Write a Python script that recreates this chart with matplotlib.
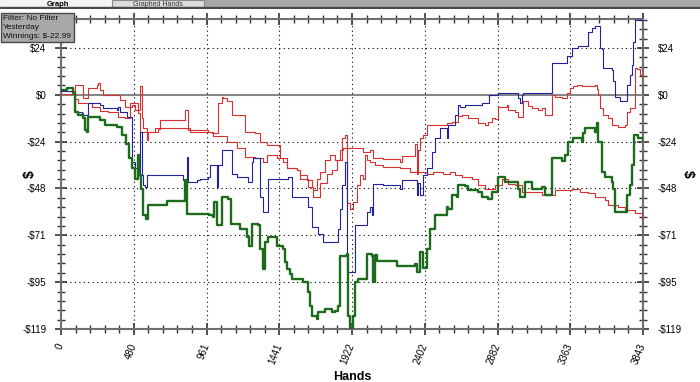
import matplotlib
matplotlib.use("Agg")
import matplotlib.pyplot as plt
from matplotlib.patches import Rectangle, FancyBboxPatch
from matplotlib.ticker import FixedLocator, MultipleLocator, FuncFormatter

plt.rcParams['font.family'] = ['Liberation Sans', 'DejaVu Sans']

TOTAL_HANDS = 3843
Y_MIN, Y_MAX = -119, 38.5

# winnings (thick green)
green_hands = [0, 40, 81, 92, 110, 147, 158, 169, 180, 246, 257, 290, 367, 400, 429, 449,
               466, 488, 506, 515, 528, 543, 559, 576, 660, 697, 796, 818, 829, 906, 979,
               1005, 1010, 1030, 1060, 1100, 1122, 1181, 1230, 1241, 1258, 1303, 1314,
               1336, 1347, 1369, 1413, 1424, 1468, 1479, 1490, 1512, 1523, 1589, 1600,
               1633, 1644, 1655, 1688, 1699, 1743, 1787, 1809, 1831, 1842, 1886, 1897,
               1908, 1919, 1930, 1941, 1963, 2007, 2018, 2051, 2062, 2073, 2084, 2216,
               2337, 2348, 2370, 2392, 2414, 2436, 2469, 2524, 2546, 2557, 2580, 2613,
               2624, 2668, 2690, 2756, 2778, 2822, 2844, 2888, 2910, 2932, 2998, 3020,
               3031, 3053, 3064, 3086, 3108, 3152, 3174, 3196, 3229, 3240, 3306, 3328,
               3350, 3383, 3438, 3449, 3460, 3504, 3526, 3537, 3548, 3570, 3592, 3625,
               3636, 3647, 3658, 3713, 3735, 3757, 3768, 3786, 3812, 3843]
green_vals = [2.5, 3.4, 1.0, -8.5, -10.2, -11.9, -17.9, -18.7, -11.1, -11.1, -12.8, -15.3,
              -16.2, -20.4, -25.0, -32.3, -37.4, -42.6, -30.6, -40.8, -47.7, -61.3, -63.0,
              -56.2, -56.2, -54.0, -54.0, -43.4, -60.4, -60.4, -61.3, -62.0, -54.5, -66.4,
              -51.9, -53.0, -65.5, -68.1, -72.5, -76.6, -65.5, -66.4, -78.3, -88.5, -74.9,
              -72.3, -72.5, -76.6, -78.3, -85.1, -88.5, -91.0, -93.6, -93.6, -95.3, -100.4,
              -107.2, -112.3, -114.0, -110.6, -109.0, -110.6, -110.0, -107.2, -82.0, -81.0,
              -112.3, -118.3, -118.5, -112.3, -95.3, -93.6, -93.6, -80.8, -82.0, -95.3,
              -81.5, -84.5, -87.0, -86.0, -90.0, -80.0, -88.0, -78.3, -68.1, -61.3, -61.0,
              -57.0, -58.0, -51.0, -51.9, -46.0, -46.5, -48.5, -49.4, -52.0, -52.8, -49.4,
              -41.7, -41.7, -44.3, -44.3, -47.7, -51.9, -51.9, -44.3, -44.3, -47.7, -47.7,
              -46.8, -51.1, -51.1, -32.3, -33.5, -30.6, -23.8, -22.1, -23.8, -19.6, -17.0,
              -17.0, -18.7, -14.5, -23.8, -39.1, -41.7, -41.7, -44.3, -47.7, -59.6, -59.6,
              -51.1, -46.0, -35.7, -20.4, -22.1, -23.0]

# blue series
blue_hands = [0, 81, 92, 136, 147, 169, 180, 257, 279, 367, 378, 389, 433, 466, 471, 488,
              510, 521, 532, 543, 554, 565, 796, 807, 829, 840, 895, 917, 972, 983, 1005,
              1027, 1038, 1060, 1115, 1126, 1159, 1225, 1236, 1258, 1270, 1303, 1314, 1336,
              1358, 1369, 1501, 1523, 1622, 1633, 1655, 1699, 1732, 1809, 1831, 1842, 1853,
              1875, 1886, 1930, 1941, 1996, 2018, 2040, 2051, 2062, 2128, 2238, 2249, 2337,
              2348, 2359, 2370, 2392, 2414, 2447, 2469, 2502, 2535, 2547, 2557, 2602, 2624,
              2635, 2668, 2756, 2778, 2822, 2828, 2866, 2888, 2998, 3020, 3031, 3042, 3053,
              3229, 3240, 3328, 3339, 3372, 3416, 3471, 3482, 3504, 3526, 3548, 3559, 3570,
              3581, 3636, 3647, 3658, 3691, 3724, 3735, 3757, 3768, 3779, 3790, 3843]
blue_vals = [2.0, 0.9, -8.5, -9.4, -10.2, -10.2, -4.3, -5.1, -6.8, -7.7, -6.0, -8.5, -11.1,
             -11.1, -34.0, -37.0, -40.8, -18.7, -40.8, -46.0, -46.8, -40.8, -40.8, -43.4,
             -31.5, -44.3, -43.4, -42.6, -42.0, -35.7, -35.7, -46.8, -35.7, -28.1, -28.1,
             -40.0, -42.0, -42.0, -44.3, -34.0, -32.3, -32.3, -51.9, -59.6, -59.6, -42.6,
             -42.0, -51.9, -51.9, -57.0, -67.0, -70.6, -74.9, -74.9, -68.1, -57.9, -46.0,
             -34.0, -90.2, -90.2, -66.4, -66.4, -59.6, -57.0, -61.0, -45.1, -46.0, -47.7,
             -43.4, -43.4, -51.1, -45.0, -51.1, -40.8, -37.4, -28.9, -22.1, -17.0, -17.0,
             -22.1, -15.3, -10.2, -5.1, -6.0, -5.1, -5.1, -4.3, -4.3, 0.0, 0.0, 0.9, 0.9,
             -1.7, -4.3, 0.0, 0.9, 0.9, 16.0, 16.0, 19.6, 24.0, 24.7, 24.7, 32.0, 34.0, 35.0,
             35.0, 24.0, 23.5, 13.6, 12.8, 6.8, -0.9, -3.4, -3.4, 5.1, 10.2, 15.3, 27.0,
             38.0, 38.0]

# upper red series
red_hi_hands = [0, 92, 136, 147, 169, 180, 235, 246, 257, 279, 367, 389, 422, 466, 488, 510,
                521, 532, 543, 565, 576, 642, 653, 796, 818, 840, 972, 994, 1038, 1060,
                1071, 1093, 1115, 1126, 1192, 1214, 1280, 1314, 1358, 1424, 1446, 1490,
                1556, 1578, 1622, 1633, 1666, 1688, 1710, 1754, 1787, 1820, 1842, 1864,
                1963, 1996, 2040, 2062, 2128, 2238, 2249, 2304, 2337, 2348, 2359, 2370,
                2392, 2414, 2447, 2546, 2580, 2624, 2646, 2690, 2734, 2756, 2800, 2822,
                2844, 2866, 2888, 2943, 2954, 2998, 3020, 3042, 3053, 3086, 3108, 3152,
                3174, 3196, 3218, 3240, 3262, 3306, 3339, 3361, 3383, 3405, 3438, 3526,
                3537, 3548, 3559, 3581, 3614, 3636, 3680, 3724, 3735, 3757, 3779, 3790,
                3801, 3820, 3843]
red_hi_vals = [0.5, 5.1, 5.1, -1.7, -1.7, 3.4, 5.1, 6.0, 2.6, 0.0, 0.0, -2.6, -6.0, -5.1,
               -7.7, -7.7, 4.3, -11.9, -17.0, -23.0, -18.7, -17.5, -12.8, -12.8, -7.7, -17.9,
               -18.7, -19.6, -4.3, -0.9, -1.7, -3.4, -3.4, -10.2, -10.2, -18.7, -19.6, -23.8,
               -25.5, -25.5, -32.3, -37.4, -38.3, -43.0, -43.0, -47.0, -51.9, -51.9, -45.0,
               -40.0, -38.3, -33.0, -28.0, -27.2, -27.2, -29.0, -28.0, -32.0, -32.5, -34.0,
               -31.0, -31.0, -25.0, -40.0, -28.0, -22.0, -20.4, -15.3, -15.3, -14.5, -13.6,
               -11.0, -10.2, -12.0, -12.0, -14.5, -15.3, -14.0, -11.9, -12.5, -6.0, -5.1,
               -7.7, -8.5, -11.1, -11.1, -3.4, -5.5, -6.8, -7.7, -6.8, -10.2, -10.2, 0.0,
               -0.9, -1.7, 1.0, 3.4, 4.3, 5.1, 4.3, 5.1, 3.0, 0.0, -6.8, -10.2, -12.0, -15.3,
               -16.2, -15.3, -8.5, -6.8, -6.8, 13.6, 13.0, 10.2, 10.2]

# lower red series
red_lo_hands = [0, 81, 92, 110, 180, 202, 257, 312, 378, 422, 444, 455, 477, 506, 521, 576,
                620, 796, 851, 983, 1005, 1093, 1159, 1214, 1280, 1325, 1336, 1358, 1402,
                1424, 1468, 1490, 1556, 1578, 1622, 1655, 1666, 1688, 1710, 1743, 1776,
                1809, 1853, 1875, 1886, 1908, 1930, 1952, 1974, 1996, 2007, 2018, 2040,
                2073, 2128, 2238, 2304, 2414, 2458, 2524, 2568, 2602, 2646, 2712, 2756,
                2800, 2866, 2910, 2954, 2998, 3042, 3174, 3262, 3372, 3427, 3482, 3526,
                3592, 3614, 3680, 3724, 3790, 3834, 3843]
red_lo_vals = [1.7, 1.7, -2.0, -4.3, -4.3, -6.0, -8.0, -8.5, -11.1, -11.9, -11.9, -4.3,
               -4.3, -9.4, -18.7, -18.7, -17.0, -17.0, -18.7, -18.7, -21.0, -23.8, -27.2,
               -31.5, -32.3, -32.3, -34.0, -30.6, -30.6, -32.3, -34.0, -37.0, -38.3, -41.0,
               -43.4, -47.0, -48.5, -43.0, -39.1, -33.2, -30.6, -33.0, -22.0, -20.4, -55.0,
               -57.9, -54.5, -46.0, -40.8, -42.6, -30.6, -33.0, -34.0, -35.7, -36.5, -37.4,
               -39.1, -40.0, -39.1, -40.0, -39.1, -40.8, -41.7, -42.6, -46.0, -47.7, -46.0,
               -42.6, -45.1, -46.0, -49.4, -51.1, -48.5, -48.0, -49.4, -50.0, -51.9, -53.5,
               -56.2, -57.0, -58.5, -60.0, -63.0, -62.5]

x_tick_labels = ['0', '480', '961', '1441', '1922', '2402', '2882', '3363', '3843']


def money(v, pos=None):
    v = round(v)
    return '$%d' % v if v >= 0 else '-$%d' % -v


fig = plt.figure(figsize=(7, 3.82), dpi=100)
ax = fig.add_axes([61 / 700, 1 - 329 / 382, 582 / 700, 310 / 382])

ax.axhline(0, color='#858585', lw=1.4, zorder=2)
ax.plot(red_lo_hands, red_lo_vals, color='#d83030', lw=0.8, drawstyle='steps-post', zorder=3)
ax.plot(red_hi_hands, red_hi_vals, color='#d83030', lw=0.8, drawstyle='steps-post', zorder=3)
ax.plot(blue_hands, blue_vals, color='#2222a0', lw=0.8, drawstyle='steps-post', zorder=4)
ax.plot(green_hands, green_vals, color='#1d6b1d', lw=1.7, drawstyle='steps-post', zorder=5)

ax.set_xlim(0, TOTAL_HANDS)
ax.set_ylim(Y_MIN, Y_MAX)

step_x = TOTAL_HANDS / 8
ax.xaxis.set_major_locator(FixedLocator([i * step_x for i in range(9)]))
ax.xaxis.set_minor_locator(MultipleLocator(step_x / 5))
ax.set_xticklabels(x_tick_labels)
step_y = -Y_MIN / 5
ax.yaxis.set_major_locator(FixedLocator([i * step_y for i in range(-5, 2)]))
ax.yaxis.set_minor_locator(MultipleLocator(step_y / 5))
ax.yaxis.set_major_formatter(FuncFormatter(money))

ax.grid(True, which='major', color='black', linestyle=(0, (1, 3)), lw=0.8)
for s in ax.spines.values():
    s.set_color('#6e6e6e')
    s.set_linewidth(1.5)

ax.tick_params(which='both', direction='inout', colors='#333333', labelcolor='black',
               right=True, top=True, labelright=True, labelsize=7)
ax.tick_params(which='major', length=9, width=1.2, pad=6)
ax.tick_params(which='minor', length=6, width=1.0)
for lab in ax.get_xticklabels():
    lab.set_rotation(68)
    lab.set_rotation_mode('anchor')
    lab.set_ha('right')
    lab.set_va('center')

ax.set_xlabel('Hands', fontsize=9, fontweight='bold', labelpad=4)
fig.text(30 / 700, 1 - 174 / 382, '$', rotation=90, fontsize=10, fontweight='bold',
         ha='center', va='center')
fig.text(688 / 700, 1 - 174 / 382, '$', rotation=270, fontsize=10, fontweight='bold',
         ha='center', va='center')

# tab strip at top
strip = fig.add_axes([0, 1 - 9 / 382, 1, 9 / 382])
strip.set_xlim(0, 700)
strip.set_ylim(9, 0)
strip.axis('off')
strip.add_patch(Rectangle((0, 0), 700, 9, color='#a9a9a9'))
strip.add_patch(Rectangle((0, 0), 112, 7, color='#f4f4f4'))
strip.add_patch(Rectangle((112, 0), 92, 7, color='#dcdcdc', ec='#8a8a8a', lw=0.8))
strip.add_patch(Rectangle((0, 7), 700, 2, color='#4a4a4a'))
strip.text(58, 6.5, 'Graph', fontsize=5.5, fontweight='bold', ha='center', va='baseline')
strip.text(158, 6.5, 'Graphed Hands', fontsize=5, ha='center', va='baseline', color='#333333')

# filter box
fig.patches.append(FancyBboxPatch((1 / 700, 1 - 42 / 382), 73 / 700, 29 / 382,
                                  boxstyle='square,pad=0', transform=fig.transFigure,
                                  fc='#a8a8a8', ec='#4a4a4a', lw=1.0))
for i, line in enumerate(['Filter: No Filter', 'Yesterday', 'Winnings: $-22.99']):
    fig.text(3 / 700, 1 - (18 + i * 9.5) / 382, line, fontsize=6, va='center', ha='left',
             color='#111111')

fig.savefig('out.png', dpi=100)
